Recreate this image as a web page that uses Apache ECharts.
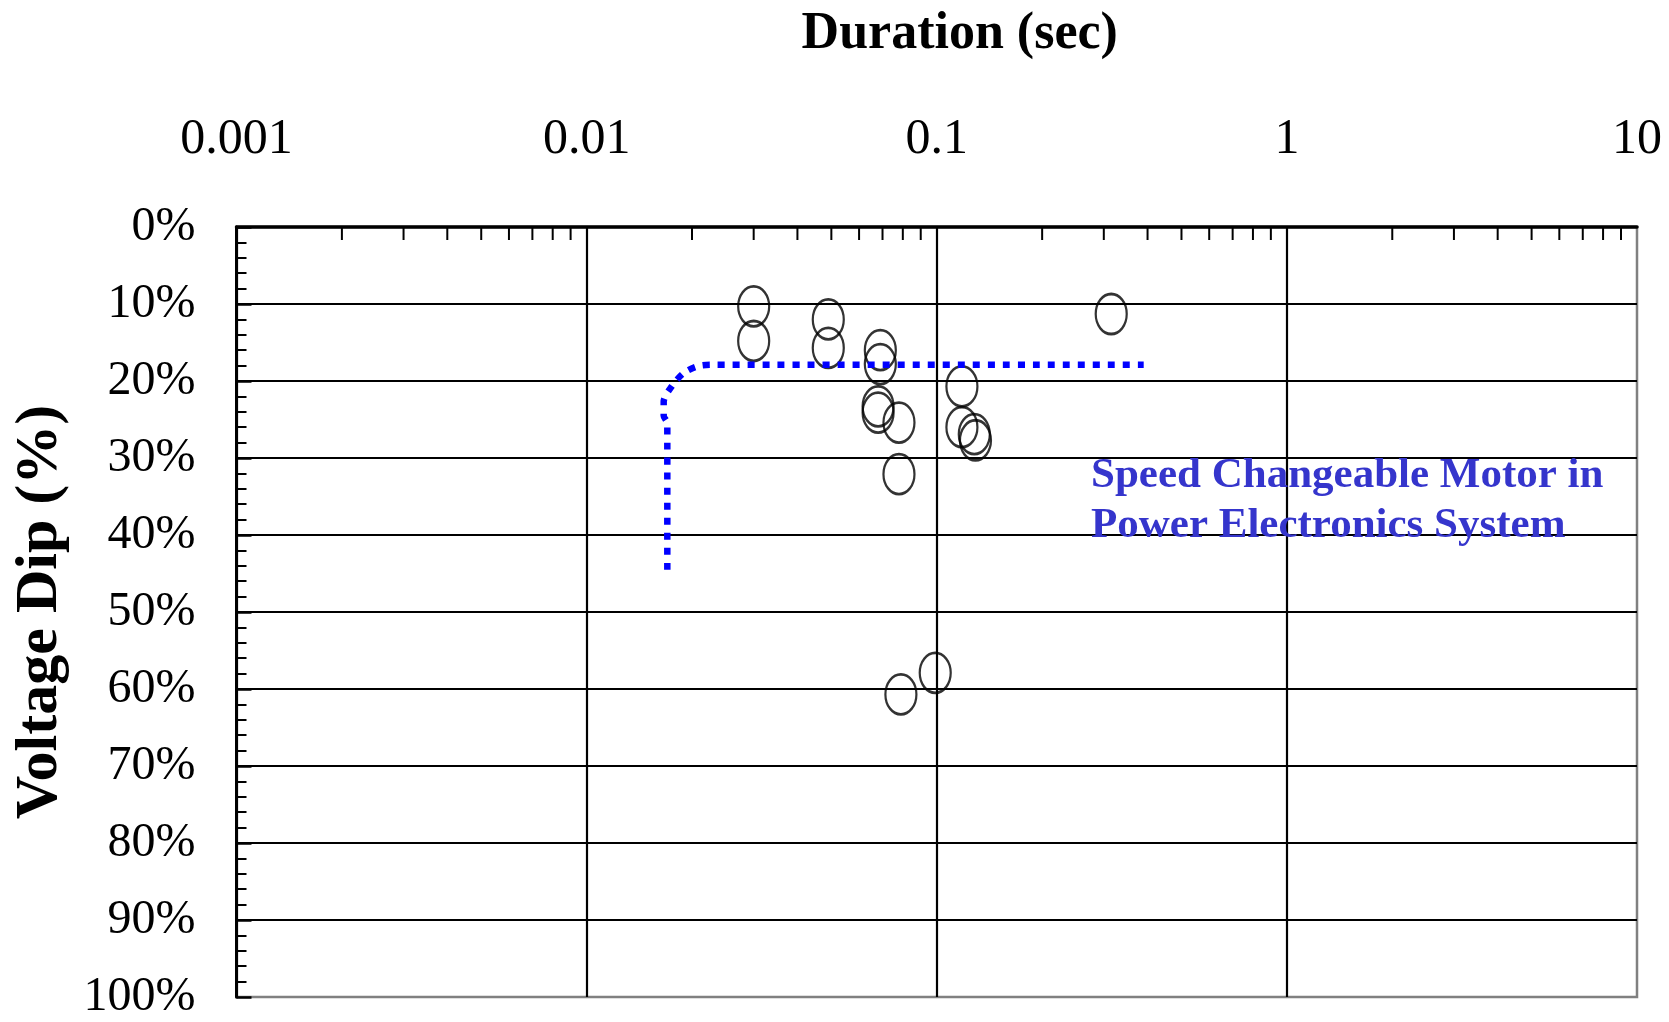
<!DOCTYPE html>
<html>
<head>
<meta charset="utf-8">
<script src="https://cdn.jsdelivr.net/npm/echarts@6/dist/echarts.min.js"></script>
<style>
html,body{margin:0;padding:0;background:#fff;}
#main{width:1669px;height:1022px;}
</style>
</head>
<body>
<div id="main"></div>
<script>
// ---- data ----
const durations = [0.030, 0.030, 0.049, 0.049, 0.069, 0.069, 0.068, 0.068, 0.078, 0.078, 0.118, 0.118, 0.128, 0.129, 0.315, 0.099, 0.079];
const dips      = [10.3, 14.8, 12.0, 15.7, 16.0, 17.8, 23.3, 24.1, 25.4, 32.1, 20.7, 26.0, 26.9, 27.7, 11.3, 57.9, 60.7];
const curveX = [0.0170, 0.0170, 0.0166, 0.0166, 0.0175, 0.0189, 0.0207, 0.0227, 0.39];
const curveY = [44.5, 25.5, 24.5, 22.7, 20.7, 19.0, 18.1, 17.9, 17.9];
const xTickLabels = ['0.001', '0.01', '0.1', '1', '10'];
const yTickLabels = ['0%', '10%', '20%', '30%', '40%', '50%', '60%', '70%', '80%', '90%', '100%'];
const decades = [0.001, 0.01, 0.1, 1];
const minorMultipliers = [2, 3, 4, 5, 6, 7, 8, 9];
const annotationLines = ['Speed Changeable Motor in', 'Power Electronics System'];

const xMinor = [];
decades.forEach(d => minorMultipliers.forEach(m => xMinor.push([d * m, 0])));

const FONT = "'Liberation Serif', 'Times New Roman', serif";

const chart = echarts.init(document.getElementById('main'));
chart.setOption({
  animation: false,
  backgroundColor: '#fff',
  grid: {
    left: 236.5, top: 227, right: 32, bottom: 25,
    show: true, borderColor: '#808080', borderWidth: 2.5, backgroundColor: 'transparent'
  },
  xAxis: {
    type: 'log', logBase: 10, min: 0.001, max: 10, position: 'top',
    name: 'Duration (sec)', nameLocation: 'middle', nameGap: 166,
    nameTextStyle: { fontFamily: FONT, fontWeight: 'bold', fontSize: 52, color: '#000', padding: [0, 0, 0, 46] },
    axisLine: { show: true, onZero: false, lineStyle: { color: '#000', width: 3.5 } },
    axisTick: { show: false },
    axisLabel: {
      margin: 62, fontFamily: FONT, fontSize: 50, color: '#000',
      formatter: v => xTickLabels[Math.round(Math.log10(v)) + 3]
    },
    splitLine: { show: true, showMaxLine: false, lineStyle: { color: '#000', width: 2.2 } },
    minorTick: { show: false }
  },
  yAxis: {
    type: 'value', min: 0, max: 100, interval: 10, inverse: true,
    name: 'Voltage Dip (%)', nameLocation: 'middle', nameRotate: 90, nameGap: 166,
    nameTextStyle: { fontFamily: FONT, fontWeight: 'bold', fontSize: 60, color: '#000' },
    axisLine: { show: true, lineStyle: { color: '#000', width: 3 } },
    axisTick: { show: true, inside: true, length: 15, lineStyle: { color: '#000', width: 2.5 } },
    minorTick: { show: true, splitNumber: 5, length: 10, lineStyle: { color: '#000', width: 2 } },
    axisLabel: {
      margin: 41, fontFamily: FONT, fontSize: 48, color: '#000',
      formatter: v => yTickLabels[Math.round(v / 10)]
    },
    splitLine: { show: true, showMinLine: false, showMaxLine: false, lineStyle: { color: '#000', width: 2.2 } }
  },
  series: [
    {
      type: 'custom',
      silent: true,
      data: xMinor,
      renderItem: (params, api) => {
        const p = api.coord([api.value(0), 0]);
        return {
          type: 'line',
          shape: { x1: p[0], y1: p[1], x2: p[0], y2: p[1] + 13 },
          style: { stroke: '#000', lineWidth: 2 }
        };
      },
      z: 3
    },
    {
      type: 'scatter',
      data: durations.map((d, i) => [d, dips[i]]),
      symbol: 'path://M15 0 A15 20 0 1 1 15 40 A15 20 0 1 1 15 0 Z',
      symbolSize: [31, 40],
      itemStyle: { color: 'rgba(0,0,0,0)', borderColor: '#000', borderWidth: 2.5 },
      z: 4
    },
    {
      type: 'line',
      data: curveX.map((x, i) => [x, curveY[i]]),
      showSymbol: false,
      symbol: 'none',
      smooth: 0.3,
      lineStyle: { color: '#0000ff', width: 6.5, type: [7, 8], cap: 'butt' },
      z: 5
    }
  ],
  graphic: annotationLines.map((t, i) => ({
    type: 'text',
    left: 1091,
    top: 454 + i * 50,
    style: { text: t, fontFamily: FONT, fontWeight: 'bold', fontSize: 43, fill: '#3535cc' },
    z: 10
  }))
});
</script>
</body>
</html>
